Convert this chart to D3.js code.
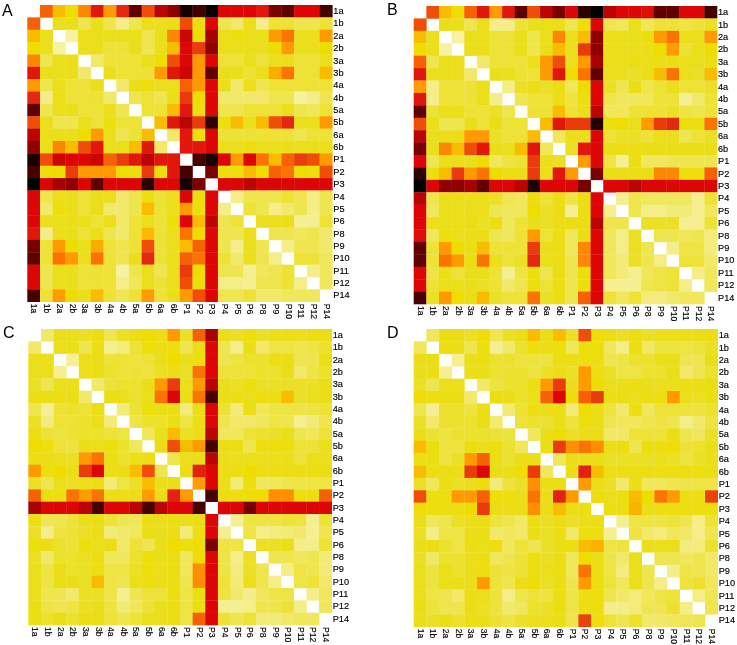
<!DOCTYPE html>
<html>
<head>
<meta charset="utf-8">
<script src="https://d3js.org/d3.v7.min.js"></script>
<style>
  body { margin: 0; background: #fff; }
  svg { display: block; filter: blur(0.35px); }
  text { font-family: "Liberation Sans", Arial, sans-serif; fill: #000; }
</style>
</head>
<body>
<svg id="chart" width="737" height="645"></svg>
<script>
const labels = ['1a', '1b', '2a', '2b', '3a', '3b', '4a', '4b', '5a', '5b', '6a', '6b',
    'P1', 'P2', 'P3', 'P4', 'P5', 'P6', 'P8', 'P9', 'P10', 'P11', 'P12', 'P14'];

// upper triangles, one row per label, starting right of the diagonal
const matrixA = [
    [8.5, 6, 5, 7.5, 10.5, 7, 10, 14, 9, 12, 13, 15.5, 14.5, 16, 11, 11, 11, 10.5, 13.5, 14, 11, 11, 14.5],
    [4, 4, 3, 4, 3, 2, 3, 4, 4, 4, 9, 4.5, 11, 3, 2.5, 4, 2, 3.5, 3.5, 3, 3, 3.5],
    [1.5, 4, 4, 4, 4, 4, 3, 4, 7.5, 11.5, 5, 12.5, 4, 4.5, 4, 4, 7, 8, 4, 4, 7],
    [4, 4, 3.5, 3.5, 4, 3, 4, 6, 11, 9.5, 13, 4, 4, 4, 4, 5, 7, 4, 4, 5],
    [2.5, 3.5, 3.5, 3.5, 4, 5, 9, 11, 7, 11, 3.5, 3.5, 4, 3.5, 4, 4, 3.5, 3.5, 4],
    [4, 3.5, 3.5, 3.5, 7, 10.5, 11.5, 7, 14, 4, 4, 3.5, 4, 6.5, 8, 3.5, 3.5, 6],
    [2.5, 4, 4.5, 4, 4, 8.5, 7, 11, 4, 2.5, 4, 3, 3.5, 3.5, 3.5, 3.5, 3.5],
    [3, 3.5, 3, 4, 9.5, 5, 11, 2.5, 2.5, 2.5, 2.5, 3, 3, 1.5, 2, 3],
    [3.5, 3.5, 6, 10.5, 4.5, 11, 3, 3, 3.5, 3.5, 3.5, 4, 3, 2.8, 3.5],
    [6, 10.5, 12, 9.5, 15, 4.5, 6, 4, 6, 9, 10, 4, 4, 7],
    [2.5, 10.5, 4.5, 11, 3.5, 3.5, 3.5, 3.5, 3.5, 3.5, 3, 3.5, 3.5],
    [10.5, 10.5, 11, 4, 4, 4.5, 4, 4, 4, 4, 4, 4],
    [14.5, 15.5, 11, 7, 11, 8, 6, 8.5, 9.5, 9, 7],
    [13.5, 4.5, 4.5, 6, 5, 8.5, 8, 5, 4.5, 9],
    [11, 11, 12, 11, 11, 11, 11, 11, 11],
    [2, 3, 3, 3, 3.5, 3, 2, 3],
    [3.5, 3, 2, 2.5, 3, 2, 3],
    [4, 4, 4, 1.8, 1.8, 3.5],
    [3, 3, 2.8, 3, 2.5],
    [2, 3, 3, 2.5],
    [3.5, 3.5, 2.8],
    [2, 2.8],
    [2.8]
];

const matrixB = [
    [9, 6, 5, 8.5, 10.5, 7, 10.5, 14, 9, 12, 13.5, 11, 15, 16, 12, 11, 11, 10.8, 14, 14, 11, 11, 14.5],
    [4, 4, 3, 4, 2, 2, 3.5, 4, 4, 4, 3, 4.5, 11, 3, 2.8, 4, 2.8, 3.5, 3.5, 3.2, 3.5, 3.8],
    [1.5, 4, 4, 3.5, 3.5, 4, 3, 4, 7.5, 4, 6, 13, 4, 4, 4, 4.5, 7, 8, 4, 4, 7],
    [4, 4, 3.5, 3.5, 4, 3, 4.2, 6, 4, 9.5, 13, 4, 4, 4, 4, 5, 7, 3.5, 4, 5],
    [2.5, 3.5, 3.5, 3.5, 4, 7, 9, 4, 7, 12.5, 4, 4, 4.3, 4, 4.3, 4.3, 4, 4, 4.3],
    [4, 4, 3.5, 3.5, 7, 10.5, 5, 8, 14, 4, 4, 3.8, 4.3, 6, 8, 4, 3.8, 6],
    [2, 3.8, 4.2, 3.8, 4.2, 2.8, 5, 11, 3.8, 3, 4.3, 3, 3.5, 4, 3.5, 3.5, 3.8],
    [3, 3.5, 3.5, 4, 3.3, 4.3, 11, 3, 2.8, 2.8, 2.8, 3.5, 3.5, 1.8, 2.5, 3.5],
    [3.5, 3.5, 6, 3.5, 4, 12, 2.8, 2.8, 3.5, 3.5, 3.5, 3.8, 3.2, 3, 3.5],
    [6, 10.5, 9.5, 9.5, 15.3, 4.5, 5, 4, 7, 9.5, 10, 4.5, 4.5, 8],
    [2.8, 4, 4, 11, 3.5, 3.8, 3.8, 3.5, 4, 4, 3, 3.5, 3.8],
    [3.8, 10.5, 11, 4.2, 4.2, 4.2, 4.2, 4.2, 4.2, 4.3, 4.3, 4.3],
    [7, 11, 3.2, 1.8, 4.2, 2.8, 2.8, 3, 3, 3, 3],
    [13.5, 4.2, 4.3, 4.3, 4.3, 7.5, 7.5, 4.5, 4.5, 8.5],
    [11, 11, 12, 11, 11, 11, 11, 11, 11],
    [1.8, 3, 2.8, 2.8, 2.8, 2.8, 1.8, 3.5],
    [3, 2, 2, 2.3, 2.3, 1.8, 2.8],
    [3.8, 3.8, 3.8, 1.8, 1.8, 3.5],
    [3, 3, 2.8, 3, 2.2],
    [2, 3.2, 3.2, 2.2],
    [3.5, 3.5, 2.5],
    [2, 2.8],
    [2.8]
];

const matrixC = [
    [2.5, 4, 4, 3.8, 4.3, 3, 3.8, 4.3, 5, 4.3, 7, 3.8, 8.5, 12.5, 4.2, 3.8, 4.5, 3.8, 4, 4, 4, 4.3, 4.3],
    [4, 4, 3, 4.2, 1.8, 2.2, 3.5, 4.5, 4.2, 4.5, 3, 4.2, 11, 3, 2, 4.2, 2.5, 3.2, 3.2, 3, 3.2, 3.7],
    [1.8, 4, 4.2, 3.5, 3.5, 3.3, 3.5, 4, 5, 4, 4.5, 11, 3, 3.3, 3.7, 3.7, 4.2, 4.2, 3, 3, 4.2],
    [4, 4.2, 3.7, 3.5, 3.5, 3.3, 3.8, 4.2, 3.8, 8, 11, 3.5, 3.5, 3.5, 3.7, 3.7, 4.2, 2.5, 3.2, 3.7],
    [2.5, 3.5, 3.7, 3.7, 4.2, 7, 9.5, 4, 7, 12, 4, 3.8, 4.5, 3.8, 3.8, 3.8, 3.8, 3.8, 4.2],
    [4.2, 4, 3.7, 4, 8, 11, 4.3, 8, 14.5, 4.2, 4.2, 4, 4.4, 4.4, 6, 3.8, 4, 4.3],
    [2.3, 3.5, 4.5, 4.2, 4.2, 2.3, 4.2, 11, 3.5, 2.3, 4.3, 2.8, 3.2, 3.2, 3.2, 3.3, 3.5],
    [3.2, 3.7, 3.7, 4.2, 3.2, 4.3, 11, 3, 2.5, 2.5, 2.7, 3.2, 3, 1.8, 2.3, 3],
    [2.8, 4, 6, 3.8, 4.2, 12, 2.8, 2.8, 3.5, 3.6, 3.8, 4, 3, 2.8, 3.5],
    [4.3, 9, 6, 7, 14.5, 4.3, 4.3, 3, 4.5, 4.5, 4.5, 3.5, 3.5, 4],
    [3, 4, 4.2, 12, 4, 4, 4, 4, 4, 4, 3.5, 4, 4],
    [4.2, 10.2, 11, 4.3, 4.3, 5, 4.3, 4.3, 4.3, 4.3, 4.3, 4.3],
    [7, 11, 4, 2.3, 4.5, 2.8, 2.8, 3, 3.2, 3.2, 3.2],
    [14.5, 4.3, 4.4, 4.8, 5, 7.3, 7.3, 4.5, 4.5, 8.5],
    [11, 11, 13.5, 11, 11, 11, 11, 11, 11],
    [1.8, 3.2, 3.2, 3.2, 3.5, 3.3, 1.8, 3.5],
    [3.2, 2, 2.2, 2.3, 2.5, 1.8, 3],
    [3.8, 3.8, 4, 2, 2, 3.5],
    [3, 3, 2.8, 3, 2.3],
    [2, 3.2, 3, 2.3],
    [3.2, 3.5, 2.5],
    [2, 2.8],
    [2.8]
];

const matrixD = [
    [2.8, 4.2, 4.2, 3.8, 4.8, 3, 3.8, 4.3, 6, 4.3, 6, 3.8, 9, 4.8, 4.2, 3.8, 4.3, 3.8, 4, 4, 4, 4.3, 4.2],
    [4.2, 4.2, 3, 4.5, 1.8, 2.5, 3.6, 4.5, 4.3, 4.5, 2.8, 4.5, 4.5, 2.8, 2, 4.4, 2.6, 3.3, 3.3, 3.2, 3.4, 3.8],
    [1.8, 4, 4.3, 3.6, 3.6, 3.3, 3.3, 3.3, 4.3, 4.2, 4.5, 4.4, 3, 3.2, 3.7, 3.7, 4.1, 4.1, 3, 3, 4.2],
    [4, 4.3, 3.7, 3.6, 3.6, 3.3, 3.8, 4.3, 3.8, 7, 4.4, 3.8, 3.2, 3.2, 3.7, 3.7, 4.2, 2.5, 3, 3.7],
    [2.5, 3.3, 3.7, 3.7, 4.4, 7, 9.5, 4, 7, 5, 4, 4, 4.4, 4, 4, 4, 4.2, 4.2, 4.3],
    [4.3, 4.2, 3.7, 4, 8.5, 11, 4.6, 8.5, 9.5, 4.3, 4.3, 4, 4.4, 4.4, 7, 4, 3.9, 4.3],
    [2.4, 3.5, 4.4, 4.2, 4.3, 2.3, 4.8, 4.3, 3.3, 2.5, 4.4, 2.8, 3.5, 3.5, 3.4, 3.4, 3.6],
    [3.4, 3.6, 3.6, 4.2, 3.4, 4.5, 4.2, 3, 2.8, 2.8, 3, 3.3, 3, 2, 2.5, 3.3],
    [2.8, 4.2, 4.8, 3.8, 4.2, 4.3, 2.6, 2.6, 3.5, 3.5, 3.5, 4.2, 3, 2.7, 3.8],
    [4.3, 9.5, 7.3, 8, 7.3, 4.3, 4.3, 3, 4.4, 4.4, 4.8, 3.5, 3.7, 4.1],
    [2.8, 4.2, 4.2, 4.2, 3.8, 3.8, 3.8, 3.8, 4, 3.8, 3.3, 3.8, 4],
    [4.2, 10.2, 6, 4.3, 4.3, 4.3, 4.3, 4.3, 4.3, 4.4, 4.4, 4.3],
    [7, 4.2, 3.8, 2.5, 4.3, 2.8, 2.8, 3, 3.1, 3.2, 3.2],
    [4.4, 4, 4.4, 6, 5, 8, 7, 4.4, 4.4, 9.3],
    [4.4, 4.4, 6.3, 4.3, 4.4, 4.4, 4.5, 4.5, 4.5],
    [1.8, 3.2, 3.2, 3.2, 3.4, 3, 2, 3.5],
    [3.3, 2.5, 2.2, 2.8, 2.6, 2, 3],
    [4, 4, 4, 2.2, 2.2, 3.7],
    [3, 3, 2.8, 3, 2.5],
    [2, 3.2, 3, 2.6],
    [3.4, 3.6, 2.8],
    [2, 2.9],
    [3]
];

const panels = [
    { name: 'A', upper: matrixA, x: [27.3, 332.3], y: [5, 301.7], nameAt: [2, 16] },
    { name: 'B', upper: matrixB, x: [413.7, 717], y: [6, 304], nameAt: [387, 15] },
    { name: 'C', upper: matrixC, x: [28.3, 331.7], y: [329, 625], nameAt: [3, 338] },
    { name: 'D', upper: matrixD, x: [413.7, 717.7], y: [329, 626.7], nameAt: [387, 338] }
];

const color = d3.scaleLinear()
    .domain([0, 1, 2, 3, 4, 5, 6, 7, 8, 9, 10, 11, 12, 13, 14, 15, 16])
    .range(['#ffffff', '#faf6b8', '#f4ed88', '#efe54e', '#ebdf1c', '#efdc00', '#f8bc00', '#ff9a00',
        '#fb7400', '#f04e08', '#e42810', '#dd0606', '#bb0404', '#900000', '#600000', '#2e0000', '#000000'])
    .clamp(true);

const svg = d3.select('#chart');

panels.forEach((p) => {
    const x = d3.scaleBand().domain(labels).range(p.x);
    const y = d3.scaleBand().domain(labels).range(p.y);
    const g = svg.append('g');

    const cells = [];
    p.upper.forEach((row, i) => {
        row.forEach((v, k) => {
            const j = i + k + 1;
            cells.push({ r: labels[i], c: labels[j], v }, { r: labels[j], c: labels[i], v });
        });
    });

    g.selectAll('rect')
        .data(cells)
        .join('rect')
        .attr('x', (d) => x(d.c))
        .attr('y', (d) => y(d.r))
        .attr('width', x.bandwidth() + 0.3)
        .attr('height', y.bandwidth() + 0.3)
        .attr('fill', (d) => color(d.v));

    g.append('g')
        .attr('transform', `translate(${p.x[1]},0)`)
        .call(d3.axisRight(y).tickSize(0).tickPadding(1))
        .call((a) => a.select('.domain').remove())
        .selectAll('text')
        .attr('font-size', 9.2)
        .style('font-family', '"Liberation Sans", Arial, sans-serif')
        .style('stroke', '#000')
        .style('stroke-width', 0.15);

    g.append('g')
        .attr('transform', `translate(0,${p.y[1]})`)
        .call(d3.axisBottom(x).tickSize(0).tickPadding(0))
        .call((a) => a.select('.domain').remove())
        .selectAll('text')
        .attr('font-size', 8.6)
        .style('font-family', '"Liberation Sans", Arial, sans-serif')
        .style('stroke', '#000')
        .style('stroke-width', 0.15)
        .attr('text-anchor', 'start')
        .attr('dy', 0)
        .attr('x', 2)
        .attr('y', 0)
        .attr('dominant-baseline', 'middle')
        .attr('transform', 'rotate(90)');

    svg.append('text')
        .attr('x', p.nameAt[0])
        .attr('y', p.nameAt[1])
        .attr('font-size', 16)
        .text(p.name);
});
</script>
</body>
</html>
